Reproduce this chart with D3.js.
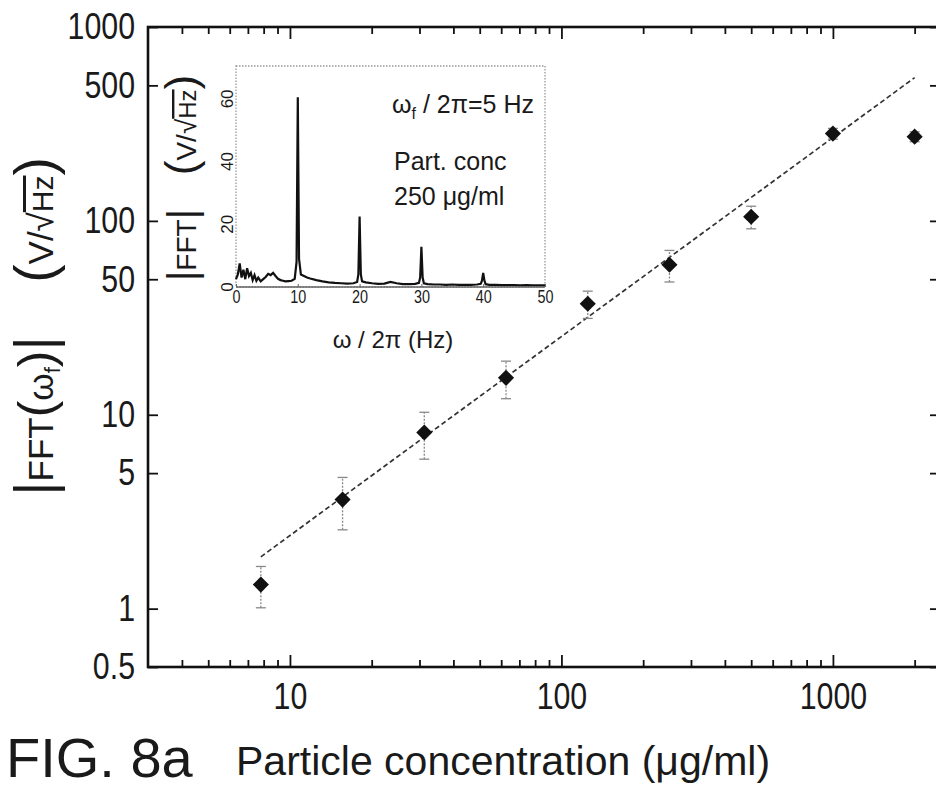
<!DOCTYPE html>
<html><head><meta charset="utf-8">
<script src="https://cdn.jsdelivr.net/npm/d3@7"></script>
<style>
body{margin:0;background:#fff}
svg{display:block}
text{font-family:"Liberation Sans",Arial,sans-serif;fill:#1a1a1a}
</style>
</head><body>
<svg id="chart" width="936" height="790"></svg>
<script>
// ---------- data ----------
const concentration = [7.8125, 15.625, 31.25, 62.5, 125, 250, 500, 1000, 2000];
const amplitude     = [1.33, 3.65, 8.1, 15.5, 37.4, 59.4, 105, 282, 272];
const amplitudeErr  = [0.32, 1.1, 2.2, 3.4, 6, 11, 14, 18, 16];
const fitX = [7.8125, 2000];
const fitY = [1.85, 548];
const yTickValues = [0.5, 1, 5, 10, 50, 100, 500, 1000];
const xTickLabels = [10, 100, 1000];

const specFreq = [0, 0.3, 0.6, 0.9, 1.2, 1.5, 1.8, 2.1, 2.4, 2.7, 3.0, 3.3, 3.6, 4.0, 4.4, 4.8, 5.2, 5.6, 6.0, 6.4, 6.8, 7.2, 7.6, 8.0, 8.5, 9.0, 9.5, 9.8, 10.0, 10.2, 10.5, 11, 11.5, 12, 13, 14, 15, 16, 17, 18, 19, 19.6, 19.8, 20.0, 20.2, 20.4, 21, 22, 23, 24, 25, 26, 27, 28, 29, 29.6, 29.8, 30.0, 30.2, 30.4, 31, 32, 33, 34, 35, 36, 37, 38, 39, 39.6, 39.8, 40.0, 40.2, 40.4, 41, 42, 43, 44, 45, 46, 47, 48, 49, 50];
const specAmp  = [2.5, 4, 7.5, 3, 5.5, 2.5, 6, 3.5, 4.5, 2.2, 3.8, 2, 3, 1.8, 2.5, 3.2, 4.2, 3.8, 4.5, 3.5, 2.6, 2.2, 2.0, 1.8, 1.9, 2.0, 2.6, 8, 60.5, 9, 4, 3.5, 3.0, 2.7, 2.2, 1.8, 1.5, 1.3, 1.2, 1.1, 1.2, 1.6, 4, 22.5, 4, 1.8, 1.5, 1.2, 1.0, 1.1, 1.6, 1.2, 0.9, 0.9, 1.0, 1.3, 3, 12.8, 3, 1.2, 0.9, 0.8, 0.8, 0.7, 0.8, 0.7, 0.7, 0.7, 0.8, 1.0, 2, 4.5, 2, 0.9, 0.7, 0.7, 0.6, 0.6, 0.6, 0.5, 0.6, 0.5, 0.5, 0.5];
const insetXTicks = [0, 10, 20, 30, 40, 50];
const insetYTicks = [0, 20, 40, 60];

// ---------- setup ----------
const svg = d3.select("#chart");
const L = 148, R = 940, T = 27, B = 667;
const x = d3.scaleLog().domain([3, 2480]).range([L, R]);
const y = d3.scaleLog().domain([0.5, 1000]).range([B, T]);
const minorX = x.ticks().filter(v => !xTickLabels.includes(v) && v > 3);
const SX = 0.82; // condensed digits
const fmtY = d => (d < 1 ? d3.format(".1f")(d) : d3.format("d")(d));

function styleAxis(g) {
  g.select(".domain").remove();
  g.selectAll("line").attr("stroke", "#111").attr("stroke-width", 1.8);
}

// bottom axis
const gb1 = svg.append("g").attr("transform", `translate(0,${B})`)
  .call(d3.axisBottom(x).tickValues(minorX).tickSize(-7).tickFormat(""));
styleAxis(gb1);
const gb2 = svg.append("g").attr("transform", `translate(0,${B})`)
  .call(d3.axisBottom(x).tickValues(xTickLabels).tickSize(-12).tickPadding(16).tickFormat(d3.format("d")));
styleAxis(gb2);
gb2.attr("font-size", null).attr("font-family", null);
gb2.selectAll("text").style("font-size", "37px").attr("fill", "#1a1a1a")
  .attr("transform", `scale(${SX},1)`);

// top axis
const gt1 = svg.append("g").attr("transform", `translate(0,${T})`)
  .call(d3.axisTop(x).tickValues(minorX).tickSize(-7).tickFormat(""));
styleAxis(gt1);
const gt2 = svg.append("g").attr("transform", `translate(0,${T})`)
  .call(d3.axisTop(x).tickValues(xTickLabels).tickSize(-12).tickFormat(""));
styleAxis(gt2);

// left axis
const gl = svg.append("g").attr("transform", `translate(${L},0)`)
  .call(d3.axisLeft(y).tickValues(yTickValues).tickSize(-10).tickPadding(13).tickFormat(fmtY));
styleAxis(gl);
gl.attr("font-size", null).attr("font-family", null);
gl.selectAll("text").style("font-size", "37px").attr("fill", "#1a1a1a")
  .attr("x", -13 / SX).attr("transform", `scale(${SX},1)`);

// right axis (ticks only)
const gr = svg.append("g").attr("transform", `translate(${R},0)`)
  .call(d3.axisRight(y).tickValues(yTickValues).tickSize(-10).tickFormat(""));
styleAxis(gr);

// frame
svg.append("rect").attr("x", L).attr("y", T).attr("width", R - L).attr("height", B - T)
  .attr("fill", "none").attr("stroke", "#111").attr("stroke-width", 2.6);

// fit line
svg.append("path")
  .datum(fitX.map((v, i) => [v, fitY[i]]))
  .attr("d", d3.line().x(d => x(d[0])).y(d => y(d[1])))
  .attr("fill", "none").attr("stroke", "#333").attr("stroke-width", 1.7)
  .attr("stroke-dasharray", "5,3");

// error bars
const eb = svg.append("g").attr("stroke", "#888").attr("stroke-width", 1.3);
concentration.forEach((c, i) => {
  const cx = x(c), y0 = y(amplitude[i] - amplitudeErr[i]), y1 = y(amplitude[i] + amplitudeErr[i]);
  eb.append("line").attr("x1", cx).attr("x2", cx).attr("y1", y0).attr("y2", y1).attr("stroke-dasharray", "2,1.5");
  eb.append("line").attr("x1", cx - 5).attr("x2", cx + 5).attr("y1", y0).attr("y2", y0);
  eb.append("line").attr("x1", cx - 5).attr("x2", cx + 5).attr("y1", y1).attr("y2", y1);
});

// markers
svg.append("g").selectAll("path").data(concentration).join("path")
  .attr("d", d3.symbol(d3.symbolSquare, 130))
  .attr("transform", (c, i) => `translate(${x(c)},${y(amplitude[i])}) rotate(45)`)
  .attr("fill", "#111");

// main y label
const yl1 = svg.append("text").attr("transform", "translate(53,220) rotate(-90)").attr("text-anchor", "middle");
yl1.append("tspan").style("font-size", "55px").text("(");
yl1.append("tspan").style("font-size", "35px").text("V/√");
yl1.append("tspan").style("font-size", "30px").style("text-decoration", "overline").text("Hz");
yl1.append("tspan").style("font-size", "55px").text(")");
const yl2 = svg.append("text").attr("transform", "translate(53,416) rotate(-90)").attr("text-anchor", "middle");
yl2.append("tspan").style("font-size", "55px").text("|");
yl2.append("tspan").style("font-size", "35px").text("FFT");
yl2.append("tspan").style("font-size", "50px").text("(");
yl2.append("tspan").style("font-size", "35px").text("ω");
yl2.append("tspan").style("font-size", "22px").attr("dy", 7).text("f");
yl2.append("tspan").style("font-size", "50px").attr("dy", -7).text(")");
yl2.append("tspan").style("font-size", "55px").text("|");

// x label & figure tag
svg.append("text").attr("x", 236).attr("y", 775).style("font-size", "41px")
  .text("Particle concentration (μg/ml)");
svg.append("text").attr("x", 6).attr("y", 777).style("font-size", "56px")
  .text("FIG. 8a");

// ---------- inset ----------
const xi = d3.scaleLinear().domain([0, 50]).range([236, 545]);
const yi = d3.scaleLinear().domain([0, 70.5]).range([287, 66]);
const gi = svg.append("g");
gi.append("rect").attr("x", 236).attr("y", 66).attr("width", 309).attr("height", 221)
  .attr("fill", "#fff").attr("stroke", "#999").attr("stroke-width", 1.3).attr("stroke-dasharray", "1.5,1.5");
gi.append("path")
  .datum(specFreq.map((f, i) => [f, specAmp[i]]))
  .attr("d", d3.line().x(d => xi(d[0])).y(d => yi(d[1])))
  .attr("fill", "none").attr("stroke", "#111").attr("stroke-width", 2.2);
gi.append("line").attr("x1", 236).attr("x2", 545).attr("y1", 287).attr("y2", 287)
  .attr("stroke", "#666").attr("stroke-width", 1.3);

const gix = gi.append("g").attr("transform", "translate(0,287)")
  .call(d3.axisBottom(xi).tickValues(insetXTicks).tickSize(-3).tickPadding(3));
gix.select(".domain").remove();
gix.selectAll("line").attr("stroke", "#666");
gix.attr("font-size", null).attr("font-family", null);
gix.selectAll("text").style("font-size", "18px").attr("fill", "#333").attr("transform", "scale(0.8,1)");

gi.append("g").selectAll("text").data(insetYTicks).join("text")
  .attr("transform", d => `translate(233,${yi(d)}) rotate(-90)`)
  .attr("text-anchor", "middle").style("font-size", "17px").attr("fill", "#333")
  .text(d => d);

// inset y label
const iy1 = svg.append("text").attr("transform", "translate(196,125) rotate(-90)").attr("text-anchor", "middle");
iy1.append("tspan").style("font-size", "44px").text("(");
iy1.append("tspan").style("font-size", "28px").text("V/√");
iy1.append("tspan").style("font-size", "24px").style("text-decoration", "overline").text("Hz");
iy1.append("tspan").style("font-size", "44px").text(")");
const iy2 = svg.append("text").attr("transform", "translate(196,245) rotate(-90)").attr("text-anchor", "middle");
iy2.append("tspan").style("font-size", "40px").text("|");
iy2.append("tspan").style("font-size", "28px").text("FFT");
iy2.append("tspan").style("font-size", "40px").text("|");

// inset x label
const ixl = svg.append("text").attr("x", 393).attr("y", 348).attr("text-anchor", "middle").style("font-size", "24px").attr("fill", "#333");
ixl.text("ω / 2π (Hz)");

// annotations
const a1 = svg.append("text").attr("x", 392).attr("y", 113).style("font-size", "25px").attr("fill", "#333");
a1.append("tspan").text("ω");
a1.append("tspan").style("font-size", "16px").attr("dy", 6).text("f");
a1.append("tspan").attr("dy", -6).text(" / 2π=5 Hz");
svg.append("text").attr("x", 394).attr("y", 170).style("font-size", "25px").attr("fill", "#333").text("Part. conc");
svg.append("text").attr("x", 394).attr("y", 205).style("font-size", "25px").attr("fill", "#333").text("250 μg/ml");
</script>
</body></html>
